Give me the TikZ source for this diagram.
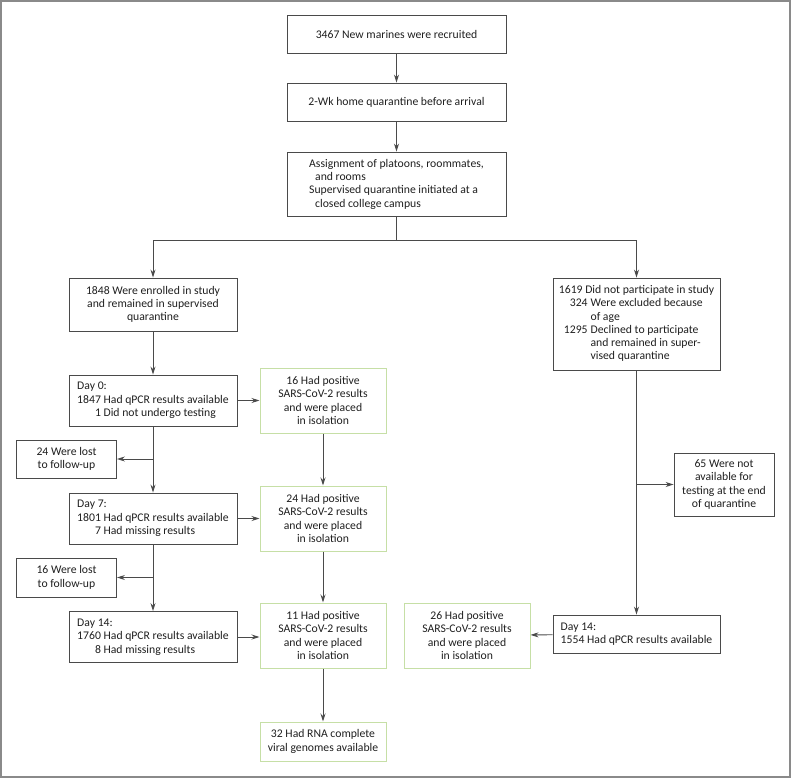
\documentclass[tikz,border=0pt]{standalone}
\usepackage{fontspec}
\setmainfont{Carlito}
\usetikzlibrary{arrows.meta}
\definecolor{boxgray}{HTML}{4A4A4A}
\definecolor{boxgreen}{HTML}{C6DFA6}
\definecolor{framegray}{HTML}{8A8A8A}
\begin{document}
\begin{tikzpicture}[x=1bp,y=-1bp,
  every node/.style={font=\fontsize{11.7bp}{13.3bp}\selectfont, text=black!88},
  gbox/.style={draw=boxgray, line width=0.9bp, inner sep=0pt, align=center},
  lbox/.style={gbox, align=left},
  grbox/.style={draw=boxgreen, line width=1bp, inner sep=0pt, align=center},
  arr/.style={draw=boxgray, line width=0.9bp, -{Stealth[length=8bp,width=5bp]}},
  ln/.style={draw=boxgray, line width=0.9bp}]
\useasboundingbox (0,0) rectangle (791,778);
\draw[framegray, line width=2bp] (1,1) rectangle (790,777);

% top column
\node[gbox, minimum width=219bp, minimum height=38bp] (b1) at (396.5,34) {3467 New marines were recruited};
\node[gbox, minimum width=219bp, minimum height=38bp] (b2) at (396.5,102) {2-Wk home quarantine before arrival};
\node[lbox, minimum width=219bp, minimum height=64bp] (b3) at (396.5,184) {Assignment of platoons, roommates,\\\hspace{6bp}and rooms\\Supervised quarantine initiated at a\\\hspace{6bp}closed college campus};

% left column
\node[gbox, minimum width=168bp, minimum height=53bp] (enr) at (153,304.5) {1848 Were enrolled in study\\and remained in supervised\\quarantine};
\node[lbox, minimum width=168bp, minimum height=51bp] (d0) at (153,400.5) {Day 0:\\1847 Had qPCR results available\\\phantom{184}1 Did not undergo testing};
\node[gbox, minimum width=100bp, minimum height=38bp] (l1) at (66.5,459) {24 Were lost\\to follow-up};
\node[lbox, minimum width=168bp, minimum height=51bp] (d7) at (153,518.5) {Day 7:\\1801 Had qPCR results available\\\phantom{180}7 Had missing results};
\node[gbox, minimum width=100bp, minimum height=39bp] (l2) at (66.5,577.5) {16 Were lost\\to follow-up};
\node[lbox, minimum width=168bp, minimum height=51bp] (d14) at (153,637) {Day 14:\\1760 Had qPCR results available\\\phantom{176}8 Had missing results};

% green column
\node[grbox, minimum width=126bp, minimum height=65bp] (g1) at (323,400.5) {16 Had positive\\SARS-CoV-2 results\\and were placed\\in isolation};
\node[grbox, minimum width=126bp, minimum height=65bp] (g2) at (323,518.5) {24 Had positive\\SARS-CoV-2 results\\and were placed\\in isolation};
\node[grbox, minimum width=126bp, minimum height=65bp] (g3) at (323,635.5) {11 Had positive\\SARS-CoV-2 results\\and were placed\\in isolation};
\node[grbox, minimum width=126bp, minimum height=39bp] (g4) at (323,741.5) {32 Had RNA complete\\viral genomes available};

% right column
\node[gbox, minimum width=167bp, minimum height=92bp] (nop) at (636.5,324) {\begin{tabular}{@{\hspace{5bp}}r@{\hspace{3bp}}l@{}}
\multicolumn{2}{@{}l@{}}{1619 Did not participate in study}\\
324 & Were excluded because\\
 & of age\\
1295 & Declined to participate\\
 & and remained in super-\\
 & vised quarantine
\end{tabular}};
\node[gbox, minimum width=100bp, minimum height=63bp] (n65) at (724,484.5) {65 Were not\\available for\\testing at the end\\of quarantine};
\node[lbox, minimum width=167bp, minimum height=38bp] (d14r) at (636.5,634) {Day 14:\\1554 Had qPCR results available};
\node[grbox, minimum width=126bp, minimum height=65bp] (g5) at (467,635.5) {26 Had positive\\SARS-CoV-2 results\\and were placed\\in isolation};

% connectors
\draw[arr] (b1) -- (b2);
\draw[arr] (b2) -- (b3);
\coordinate (split) at (396.5,240);
\draw[ln] (b3.south) -- (split);
\draw[arr] (split) -| (enr.north);
\draw[arr] (split) -| (nop.north);

\draw[arr] (enr) -- (d0);
\draw[arr] (d0.east) -- (d0.east -| g1.west);
\draw[arr] (d0) -- (d7);
\coordinate (j1) at (153,459);
\draw[arr] (j1) -- (l1.east);
\draw[arr] (d7.east) -- (d7.east -| g2.west);
\draw[arr] (d7) -- (d14);
\coordinate (j2) at (153,577.5);
\draw[arr] (j2) -- (l2.east);
\draw[arr] (d14.east) -- (d14.east -| g3.west);

\draw[arr] (g1) -- (g2);
\draw[arr] (g2) -- (g3);
\draw[arr] (g3) -- (g4);

\draw[arr] (nop) -- (d14r);
\coordinate (j3) at (636.5,484.5);
\draw[arr] (j3) -- (n65.west);
\draw[arr] (d14r) -- (g5);
\end{tikzpicture}
\end{document}
